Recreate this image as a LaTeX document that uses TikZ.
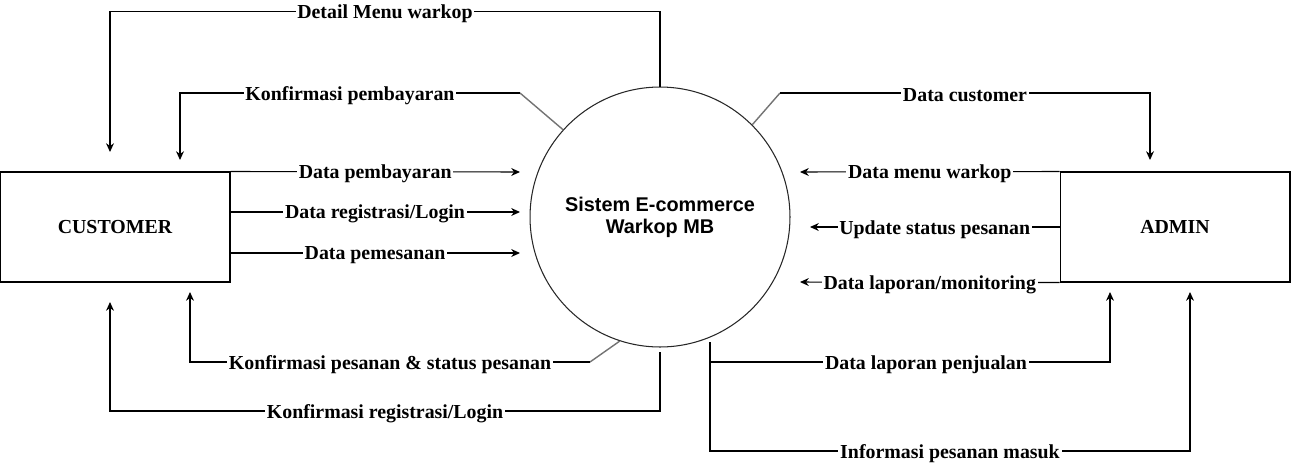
\documentclass[tikz,border=0pt]{standalone}
\usepackage{fontspec}
\setmainfont{Liberation Serif}
\setsansfont{Liberation Sans}
\usetikzlibrary{arrows.meta}

\tikzset{
    entitas/.style={draw, line width=0.6pt, minimum width=4.6cm, minimum height=2.2cm, font=\fontsize{11.3}{13}\selectfont\bfseries},
    proses/.style={draw=black!85, circle, line width=0.6pt, minimum size=5.2cm, align=center, font=\fontsize{11.3}{12.5}\selectfont\sffamily\bfseries},
    flow/.style={-{Stealth[length=5pt,width=4.5pt]}, line width=0.6pt},
    lbl/.style={fill=white, inner sep=1pt, yshift=-1.3pt, font=\fontsize{11.3}{13}\selectfont\bfseries},
    tali/.style={draw=black!55, line width=0.8pt},
}

\begin{document}
\begin{tikzpicture}[x=0.02cm, y=-0.02cm]
            \useasboundingbox (0,0) rectangle (1291,464);
            \node[entitas] (cust) at (115,227) {CUSTOMER};
            \node[entitas] (admin) at (1175,227) {ADMIN};
            \node[proses] (sis) at (660,217) {Sistem E-commerce\\Warkop MB};
            % titik belok dan ujung panah
            \coordinate (k1) at (520,93);
            \coordinate (k2) at (780,93);
            \coordinate (k3) at (590,362);
            \coordinate (k4) at (660,352);
            \coordinate (k5) at (710,342);
            \coordinate (c1) at (110,152);
            \coordinate (c2) at (180,160);
            \coordinate (c3) at (1150,160);
            \coordinate (c10) at (190,292);
            \coordinate (c11) at (110,302);
            \coordinate (c12) at (1110,292);
            \coordinate (c13) at (1190,292);
            \coordinate (a1) at (520,172);
            \coordinate (a2) at (520,212);
            \coordinate (a3) at (520,253);
            \coordinate (a4) at (800,172);
            \coordinate (a5) at (810,227);
            \coordinate (a6) at (800,282);
            \coordinate (b2) at (230,212);
            \coordinate (b3) at (230,253);
            % ke customer
            \draw[flow] (sis.north) -- ++(0,-75) -| node[lbl, pos=0.25] {Detail Menu warkop} (c1);
            \draw[tali] (sis.138) -- (k1);
            \draw[flow] (k1) -| node[lbl, pos=0.25] {Konfirmasi pembayaran} (c2);
            \draw[tali] (sis.-108) -- (k3);
            \draw[flow] (k3) -| node[lbl, pos=0.25] {Konfirmasi pesanan \& status pesanan} (c10);
            \draw[flow] (k4) -- ++(0,59) -| node[lbl, pos=0.25] {Konfirmasi registrasi/Login} (c11);
            % dari customer
            \draw[flow] (cust.north east) -- node[lbl] {Data pembayaran} (a1);
            \draw[flow] (b2) -- node[lbl] {Data registrasi/Login} (a2);
            \draw[flow] (b3) -- node[lbl] {Data pemesanan} (a3);
            % ke admin
            \draw[tali] (sis.45) -- (k2);
            \draw[flow] (k2) -| node[lbl, pos=0.25] {Data customer} (c3);
            \draw[flow] (k5) -- ++(0,20) -| node[lbl, pos=0.27] {Data laporan penjualan} (c12);
            \draw[flow] (k5) -- ++(0,109) -| node[lbl, pos=0.25] {Informasi pesanan masuk} (c13);
            % dari admin
            \draw[flow] (admin.north west) -- node[lbl] {Data menu warkop} (a4);
            \draw[flow] (admin.west) -- node[lbl] {Update status pesanan} (a5);
            \draw[flow] (admin.south west) -- node[lbl] {Data laporan/monitoring} (a6);
        \end{tikzpicture}
\end{document}
